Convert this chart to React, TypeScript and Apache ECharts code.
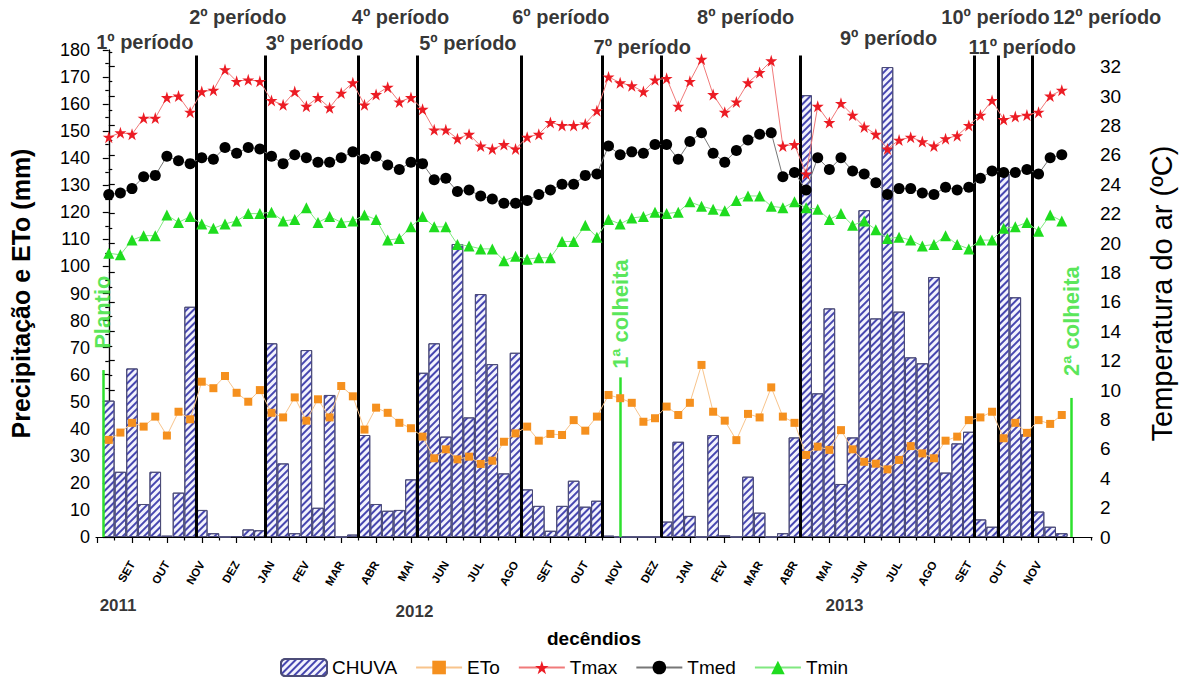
import React, { useEffect, useRef } from "react";
import * as echarts from "echarts";

const FONT = "'Liberation Sans', Arial, Helvetica, sans-serif";

// Decêndio index 0 = last decêndio of Aug 2011; one unit per 10-day period.
const monthNames = [
  "SET", "OUT", "NOV", "DEZ", "JAN", "FEV", "MAR", "ABR", "MAI", "JUN", "JUL", "AGO",
  "SET", "OUT", "NOV", "DEZ", "JAN", "FEV", "MAR", "ABR", "MAI", "JUN", "JUL", "AGO",
  "SET", "OUT", "NOV",
];

// Rainfall per decêndio (mm)
const chuva = [
  50.4, 24.1, 62.3, 12.2, 24.1, 0.5, 16.4, 85.1, 10.0, 1.4,
  0, 0.3, 2.8, 2.5, 71.6, 27.2, 1.4, 69.1, 10.8, 52.5,
  0, 0.9, 37.7, 12.2, 9.7, 10.0, 21.3, 60.7, 71.6, 37.1,
  108.3, 44.2, 89.8, 63.9, 23.5, 68.1, 17.6, 11.5, 2.3, 11.5,
  20.8, 11.2, 13.4, 0.5, 0, 0, 0, 0, 5.7, 35.2,
  7.8, 0, 37.7, 0.6, 0, 22.3, 9.0, 0, 1.4, 36.8,
  163.3, 53.1, 84.5, 19.6, 36.8, 120.8, 80.8, 173.7, 83.3, 66.4,
  64.2, 96.1, 23.8, 34.6, 38.9, 6.5, 3.8, 134.4, 88.6, 38.0,
  9.4, 3.8, 1.4,
];

// Reference evapotranspiration per decêndio (mm)
const eto = [
  35.9, 38.6, 42.2, 40.8, 44.5, 37.5, 46.3, 43.5, 57.4, 55.0,
  59.5, 53.3, 50.0, 54.3, 45.9, 44.2, 51.6, 43.0, 50.9, 44.2,
  55.8, 52.0, 39.7, 47.8, 45.9, 42.2, 40.2, 37.1, 29.1, 32.4,
  28.7, 29.7, 27.0, 28.2, 35.2, 38.3, 40.8, 35.6, 38.1, 37.7,
  43.2, 39.3, 44.5, 52.5, 51.3, 49.6, 42.6, 43.9, 48.2, 45.1,
  49.6, 63.6, 46.3, 43.0, 35.8, 45.5, 44.2, 55.3, 44.5, 42.2,
  30.3, 33.4, 32.2, 39.5, 32.4, 27.8, 27.1, 25.0, 28.5, 33.6,
  30.9, 29.1, 35.6, 37.1, 43.2, 44.2, 46.3, 36.5, 42.2, 38.5,
  43.2, 41.8, 45.1,
];

// Air temperature per decêndio (°C)
const tmax = [
  27.2, 27.5, 27.4, 28.5, 28.5, 29.9, 30.0, 28.9, 30.3, 30.4,
  31.8, 31.0, 31.1, 31.0, 29.7, 29.4, 30.3, 29.3, 29.9, 29.2,
  30.2, 30.9, 29.4, 30.1, 30.6, 29.6, 29.9, 29.1, 27.7, 27.7,
  27.1, 27.4, 26.6, 26.4, 26.7, 26.4, 27.2, 27.4, 28.2, 28.0,
  28.0, 28.1, 29.0, 31.3, 30.9, 30.7, 30.3, 31.1, 31.2, 29.3,
  31.0, 32.5, 30.1, 28.9, 29.6, 30.9, 31.6, 32.4, 26.6, 26.7,
  24.7, 29.3, 28.2, 29.5, 28.7, 27.9, 27.4, 26.4, 27.0, 27.2,
  26.9, 26.6, 27.1, 27.3, 28.0, 28.7, 29.7, 28.4, 28.6, 28.7,
  28.9, 30.0, 30.4,
];

const tmed = [
  23.3, 23.4, 23.7, 24.5, 24.6, 25.9, 25.6, 25.4, 25.8, 25.7,
  26.5, 26.1, 26.5, 26.4, 25.9, 25.4, 26.0, 25.8, 25.5, 25.5,
  25.8, 26.2, 25.7, 25.9, 25.3, 25.0, 25.5, 25.4, 24.3, 24.4,
  23.5, 23.6, 23.2, 23.0, 22.7, 22.7, 22.9, 23.3, 23.6, 24.0,
  24.0, 24.6, 24.7, 26.6, 26.0, 26.2, 26.1, 26.7, 26.7, 25.7,
  26.9, 27.5, 26.1, 25.5, 26.3, 27.0, 27.4, 27.5, 24.5, 24.8,
  23.6, 25.8, 25.0, 25.8, 24.9, 24.7, 24.1, 23.3, 23.7, 23.7,
  23.4, 23.3, 23.8, 23.6, 23.8, 24.4, 24.9, 24.8, 24.8, 25.0,
  24.7, 25.8, 26.0,
];

const tmin = [
  19.3, 19.2, 20.2, 20.5, 20.5, 21.9, 21.4, 21.8, 21.3, 21.0,
  21.3, 21.5, 22.0, 22.0, 22.1, 21.5, 21.6, 22.4, 21.4, 21.8,
  21.4, 21.5, 21.9, 21.6, 20.2, 20.3, 21.1, 21.8, 21.1, 21.1,
  19.9, 19.8, 19.6, 19.6, 18.8, 19.1, 18.9, 19.0, 19.0, 20.1,
  20.1, 21.2, 20.4, 21.6, 21.3, 21.7, 21.8, 22.1, 22.0, 22.1,
  22.8, 22.5, 22.3, 22.2, 22.9, 23.2, 23.2, 22.5, 22.4, 22.8,
  22.4, 22.3, 21.6, 22.0, 21.2, 21.5, 20.9, 20.3, 20.4, 20.2,
  19.8, 19.9, 20.5, 19.9, 19.6, 20.2, 20.2, 21.0, 21.1, 21.4,
  20.8, 21.9, 21.5,
];

// Period boundaries, in decêndio units
const periodBoundaries = [7.5, 13.5, 21.5, 26.5, 35.5, 42.5, 47.5, 59.5, 74.5, 76.5, 79.5];
const periodNames = [
  "1º período", "2º período", "3º período", "4º período", "5º período", "6º período",
  "7º período", "8º período", "9º período", "10º período", "11º período", "12º período",
];
const periodLabelX = [3.1, 11.1, 17.7, 25.1, 30.9, 38.9, 45.9, 54.8, 67.1, 76.3, 78.6, 85.9];
const periodLabelY = [182.9, 192.2, 182.5, 192.2, 182.5, 192.2, 181.1, 192.2, 184.4, 192.2, 181.1, 192.2];

// Crop events: planting and the two harvests
const eventNames = ["Plantio", "1ª colheita", "2ª colheita"];
const eventX = [-0.5, 44.0, 82.85];
const eventTop = [61.7, 59.0, 51.4];
const eventLabelY = [83.1, 82.4, 79.8];

const years = ["2011", "2012", "2013"];
const yearX = [0.8, 26.3, 63.3];
const yearY = [-25.5, -27.7, -25.5];

const X_MIN = -1.1;
const X_MAX = 84.6;
const T_MAX_AXIS = 33.13;

const monthTick = (m: number) => 2 + 3 * m;
const majorTicks: number[] = [];
const minorTicks: number[] = [];
for (let m = -1; m <= 27; m++) majorTicks.push(monthTick(m));
for (let m = -1; m <= 27; m++) minorTicks.push(monthTick(m) + 1.5);
const labelTicks = monthNames.map((_, m) => monthTick(m));
const tempTicks: number[] = [];
for (let t = 0; t <= 32; t += 2) tempTicks.push(t);

const STAR =
  "path://M50,0 L61.2,34.5 L97.6,34.5 L68.2,55.9 L79.4,90.5 L50,69.1 L20.6,90.5 L31.8,55.9 L2.4,34.5 L38.8,34.5 Z";

const idx = (arr: number[]) => arr.map((v, i) => [i, v]);

function buildOption() {
  const black = { color: "#000", width: 1.2 };
  const periodLines = periodBoundaries.map((x) => [
    { coord: [x, 0], lineStyle: { color: "#000", width: 3, type: "solid" } },
    { coord: [x, 178] },
  ]);
  const eventLines = eventX.map((x, i) => [
    { coord: [x, 0], lineStyle: { color: "#2ee02e", width: 2.5, type: "solid" } },
    { coord: [x, eventTop[i]] },
  ]);

  return {
    animation: false,
    backgroundColor: "#ffffff",
    textStyle: { fontFamily: FONT, color: "#000" },
    grid: { left: 96, right: 91, top: 50, bottom: 145, containLabel: false },
    legend: {
      left: 275,
      top: 653,
      itemWidth: 46,
      itemHeight: 17,
      itemGap: 18,
      textStyle: { fontSize: 19, color: "#000", fontFamily: FONT },
      data: ["CHUVA", "ETo", "Tmax", "Tmed", "Tmin"],
    },
    xAxis: [
      {
        type: "value",
        min: X_MIN,
        max: X_MAX,
        position: "bottom",
        splitLine: { show: false },
        axisLine: { show: true, onZero: false, lineStyle: black },
        axisTick: { show: true, customValues: majorTicks, length: 6, lineStyle: black },
        axisLabel: {
          customValues: labelTicks,
          formatter: (v: number) => monthNames[Math.round((v - 2) / 3)] ?? "",
          rotate: 60,
          fontSize: 11.5,
          fontWeight: "bold",
          margin: 25,
          color: "#000",
        },
        name: "decêndios",
        nameLocation: "middle",
        nameGap: 92,
        nameTextStyle: { fontSize: 19, fontWeight: "bold", color: "#000" },
      },
      {
        type: "value",
        min: X_MIN,
        max: X_MAX,
        position: "bottom",
        splitLine: { show: false },
        axisLine: { show: false, onZero: false },
        axisTick: { show: true, customValues: minorTicks, length: 3.5, lineStyle: black },
        axisLabel: { show: false },
      },
    ],
    yAxis: [
      {
        type: "value",
        min: 0,
        max: 180,
        interval: 10,
        position: "left",
        splitLine: { show: false },
        axisLine: { show: true, lineStyle: black },
        axisTick: { show: true, length: 6, lineStyle: black },
        minorTick: { show: true, splitNumber: 2, length: 3.5, lineStyle: black },
        axisLabel: { fontSize: 18, margin: 6, color: "#000" },
        name: "Precipitação e ETo (mm)",
        nameLocation: "middle",
        nameGap: 63,
        nameRotate: 90,
        nameTextStyle: { fontSize: 25, fontWeight: "bold", color: "#000" },
      },
      {
        type: "value",
        min: 0,
        max: T_MAX_AXIS,
        interval: 2,
        position: "right",
        splitLine: { show: false },
        axisLine: { show: true, lineStyle: black },
        axisTick: { show: true, customValues: tempTicks, length: 6, lineStyle: black },
        minorTick: { show: true, splitNumber: 2, length: 3.5, lineStyle: black },
        axisLabel: { customValues: tempTicks, fontSize: 19, margin: 8, color: "#000" },
        name: "Temperatura do ar (ºC)",
        nameLocation: "middle",
        nameGap: 55,
        nameRotate: 90,
        nameTextStyle: { fontSize: 29, color: "#000" },
      },
    ],
    series: [
      {
        name: "CHUVA",
        type: "bar",
        xAxisIndex: 0,
        yAxisIndex: 0,
        data: idx(chuva),
        barWidth: 11.6,
        itemStyle: {
          color: "#f3f3fd",
          borderColor: "#4c4c78",
          borderWidth: 1,
          decal: {
            symbol: "rect",
            symbolSize: 1,
            color: "#4747b0",
            dashArrayX: [1, 0],
            dashArrayY: [2, 3],
            rotation: -Math.PI / 4,
          },
        },
        z: 1,
        markLine: {
          silent: true,
          symbol: ["none", "none"],
          label: { show: false },
          z: 5,
          data: [...periodLines, ...eventLines],
        },
      },
      {
        name: "ETo",
        type: "line",
        xAxisIndex: 0,
        yAxisIndex: 0,
        data: idx(eto),
        symbol: "rect",
        symbolSize: 8,
        itemStyle: { color: "#f5901e" },
        lineStyle: { color: "#f8c48c", width: 1 },
        z: 6,
      },
      {
        name: "Tmax",
        type: "line",
        xAxisIndex: 0,
        yAxisIndex: 1,
        data: idx(tmax),
        symbol: STAR,
        symbolSize: 12,
        itemStyle: { color: "#ec1c24" },
        lineStyle: { color: "#f07a7a", width: 1 },
        z: 6,
      },
      {
        name: "Tmed",
        type: "line",
        xAxisIndex: 0,
        yAxisIndex: 1,
        data: idx(tmed),
        symbol: "circle",
        symbolSize: 11,
        itemStyle: { color: "#000" },
        lineStyle: { color: "#777", width: 1 },
        z: 6,
      },
      {
        name: "Tmin",
        type: "line",
        xAxisIndex: 0,
        yAxisIndex: 1,
        data: idx(tmin),
        symbol: "triangle",
        symbolSize: 11,
        itemStyle: { color: "#1fdc1f" },
        lineStyle: { color: "#80e880", width: 1 },
        z: 6,
      },
      {
        name: "períodos",
        type: "scatter",
        xAxisIndex: 0,
        yAxisIndex: 0,
        clip: false,
        silent: true,
        symbolSize: 0,
        data: periodNames.map((n, i) => ({ name: n, value: [periodLabelX[i], periodLabelY[i]] })),
        label: {
          show: true,
          position: "inside",
          formatter: "{b}",
          fontSize: 20,
          fontWeight: "bold",
          color: "#000",
        },
        z: 7,
      },
      {
        name: "anos",
        type: "scatter",
        xAxisIndex: 0,
        yAxisIndex: 0,
        clip: false,
        silent: true,
        symbolSize: 0,
        data: years.map((n, i) => ({ name: n, value: [yearX[i], yearY[i]] })),
        label: {
          show: true,
          position: "inside",
          formatter: "{b}",
          fontSize: 17,
          fontWeight: "bold",
          color: "#000",
        },
      },
      {
        name: "eventos",
        type: "scatter",
        xAxisIndex: 0,
        yAxisIndex: 0,
        clip: false,
        silent: true,
        symbolSize: 0,
        data: eventNames.map((n, i) => ({ name: n, value: [eventX[i], eventLabelY[i]] })),
        label: {
          show: true,
          position: "inside",
          formatter: "{b}",
          rotate: 90,
          fontSize: 22,
          fontWeight: "bold",
          color: "#2ee02e",
        },
        z: 7,
      },
    ],
  };
}

export default function App() {
  const ref = useRef<HTMLDivElement>(null);
  useEffect(() => {
    if (!ref.current) return;
    const chart = echarts.init(ref.current, null, { renderer: "svg" });
    chart.setOption(buildOption() as any);
    return () => chart.dispose();
  }, []);
  return (
    <div
      ref={ref}
      style={{ position: "fixed", left: 0, top: 0, width: 1184, height: 682, background: "#fff" }}
    />
  );
}
